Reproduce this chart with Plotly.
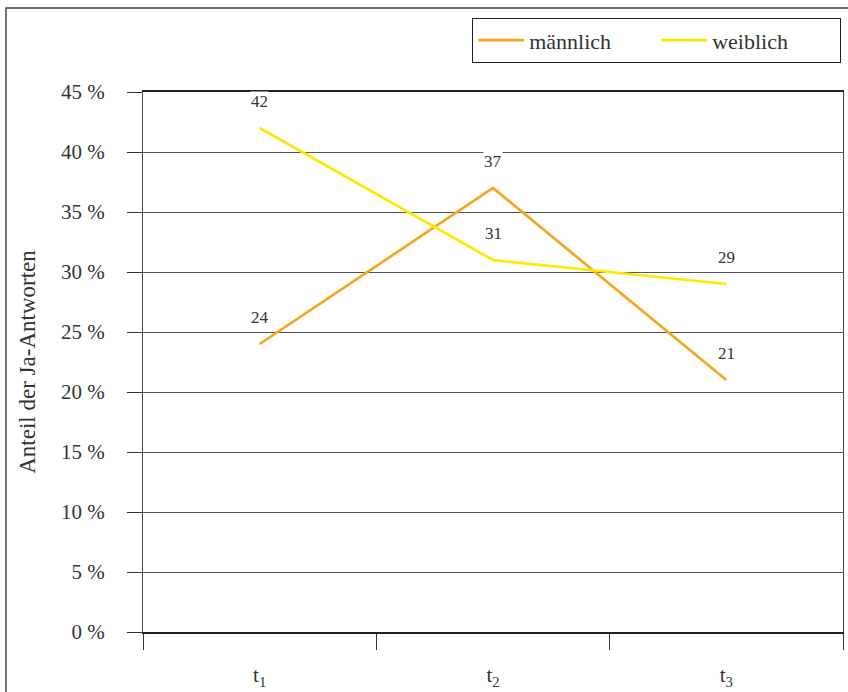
import plotly.graph_objects as go

categories = ["t<sub>1</sub>", "t<sub>2</sub>", "t<sub>3</sub>"]
maennlich = [24, 37, 21]
weiblich = [42, 31, 29]
series_names = ["männlich", "weiblich"]
y_tickvals = [0, 5, 10, 15, 20, 25, 30, 35, 40, 45]
y_ticktext = [f"{v} %" for v in y_tickvals]

FONT = "Liberation Serif, DejaVu Serif, serif"
colors = ["#F5A61E", "#FFE900"]

fig = go.Figure()
for name, vals, col in zip(series_names, [maennlich, weiblich], colors):
    fig.add_trace(go.Scatter(x=categories, y=vals, mode="lines", name=name,
                             line=dict(color=col, width=2.7)))
    for c, v in zip(categories, vals):
        fig.add_annotation(x=c, y=v, text=str(v), showarrow=False, yshift=27,
                           font=dict(family=FONT, size=17, color="#333"),
                           bgcolor="white", borderpad=0)

# outer frame
fig.add_shape(type="rect", xref="paper", yref="paper",
              x0=-0.1957, x1=1.3, y0=-0.3, y1=1.1556,
              line=dict(color="#444", width=1.5), layer="below")

fig.update_layout(
    width=848, height=692,
    margin=dict(l=143, r=5, t=92, b=60, autoexpand=False),
    paper_bgcolor="white", plot_bgcolor="white",
    font=dict(family=FONT, size=20, color="#333"),
    showlegend=True,
    legend=dict(orientation="h", x=0.997, xanchor="right", y=1.137, yanchor="top",
                bordercolor="#222", borderwidth=1.3, bgcolor="white",
                font=dict(family=FONT, size=22, color="#333"),
                entrywidth=122, itemwidth=46),
    xaxis=dict(type="category", tickson="boundaries", ticks="outside", ticklen=16,
               tickcolor="#333", tickwidth=1.3, showgrid=False,
               showline=True, mirror=True, linecolor="#222", linewidth=2.2,
               range=[-0.5, 2.5], ticklabelstandoff=23, automargin=False,
               tickfont=dict(family=FONT, size=21, color="#333")),
    yaxis=dict(range=[0, 45], tickvals=y_tickvals, ticktext=y_ticktext,
               ticks="outside", ticklen=15, tickcolor="#333", tickwidth=1.3,
               showgrid=True, gridcolor="#555", gridwidth=1.2, zeroline=False,
               showline=True, mirror=True, linecolor="#444", linewidth=1.3,
               ticklabelstandoff=18, automargin=False,
               tickfont=dict(family=FONT, size=21, color="#333")),
)
fig.update_yaxes(title=dict(text="Anteil der Ja-Antworten", standoff=18,
                            font=dict(family=FONT, size=23, color="#333")))

fig.write_html("out.html", config={"displayModeBar": False},
               post_script="document.body.style.margin='0';document.body.style.overflow='hidden';")
